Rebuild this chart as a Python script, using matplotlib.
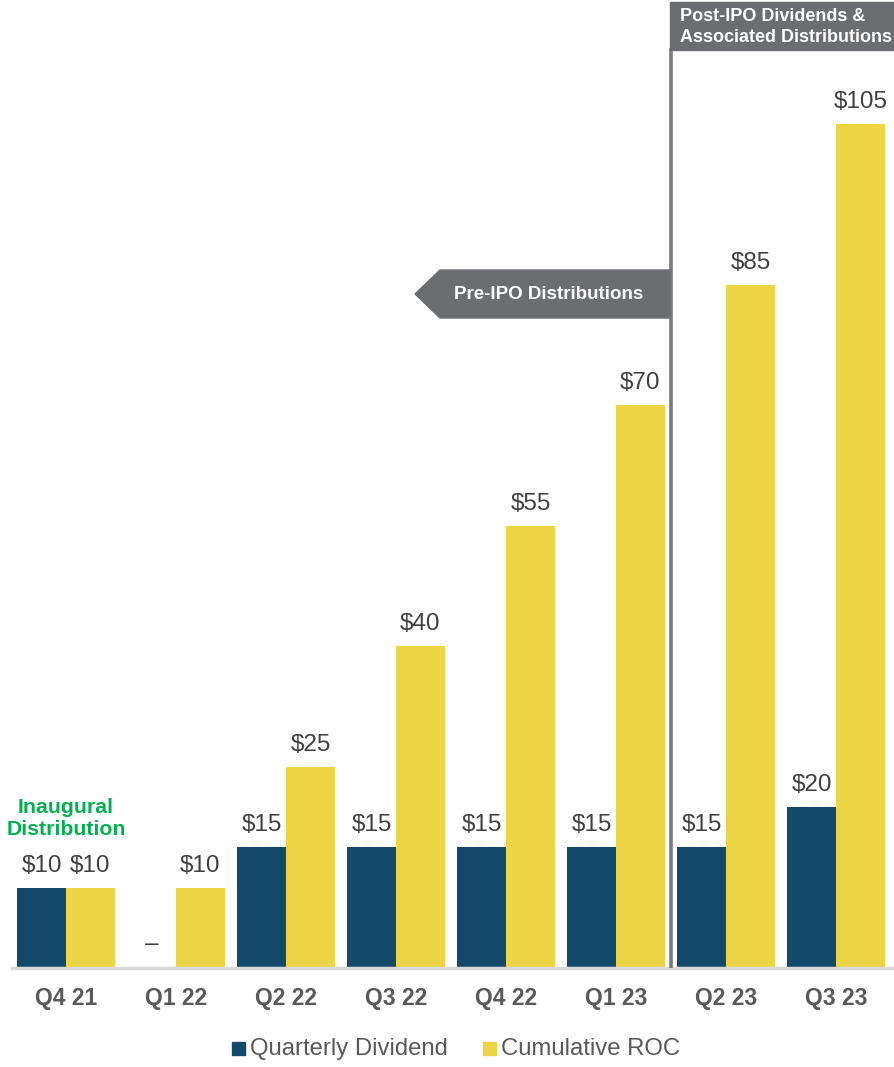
import matplotlib
matplotlib.use("Agg")
import matplotlib.pyplot as plt
from matplotlib.patches import Polygon, Rectangle

categories = ["Q4 21", "Q1 22", "Q2 22", "Q3 22", "Q4 22", "Q1 23", "Q2 23", "Q3 23"]
quarterly_dividend = [10, 0, 15, 15, 15, 15, 15, 20]
cumulative_roc = [10, 10, 25, 40, 55, 70, 85, 105]
div_labels = ["$10", "–", "$15", "$15", "$15", "$15", "$15", "$20"]
roc_labels = ["$10", "$10", "$25", "$40", "$55", "$70", "$85", "$105"]

NAVY = "#134A6C"
YELLOW = "#ECD444"
GRAY = "#6B6D70"
TXT = "#404040"

plt.rcParams['font.family'] = ['Liberation Sans', 'DejaVu Sans']

W, H = 895, 1067
fig = plt.figure(figsize=(W / 100, H / 100), dpi=100)

def fx(x):
    return x / W

def fy(y):
    return 1 - y / H

ax = fig.add_axes([fx(12), fy(968), (893 - 12) / W, 968 / H])
x = list(range(len(categories)))
bw = 0.445
ax.bar([i - bw / 2 for i in x], quarterly_dividend, width=bw, color=NAVY, zorder=2)
ax.bar([i + bw / 2 for i in x], cumulative_roc, width=bw, color=YELLOW, zorder=2)
ax.set_xlim((12 - 66) / 110, (893 - 66) / 110)
ax.set_ylim(0, 120.4)

for i in x:
    if quarterly_dividend[i] > 0:
        ax.text(i - bw / 2, quarterly_dividend[i] + 2.0, div_labels[i], ha='center', va='baseline',
                fontsize=17.5, color=TXT)
    else:
        ax.text(i - bw / 2, 3.0, div_labels[i], ha='center', va='center', fontsize=17.5, color=TXT)
    ax.text(i + bw / 2, cumulative_roc[i] + 2.0, roc_labels[i], ha='center', va='baseline',
            fontsize=17.5, color=TXT)

for s in ['top', 'right', 'left']:
    ax.spines[s].set_visible(False)
ax.spines['bottom'].set_color('#D9D9D9')
ax.spines['bottom'].set_linewidth(2.5)
ax.set_yticks([])
ax.set_xticks(x)
ax.set_xticklabels(categories, fontsize=16.5, fontweight='bold', color='#595959')
ax.tick_params(axis='x', length=0, pad=14)

# vertical separator
ax.axvline(5.5, ymin=0, ymax=(968 - 50) / 968, color='#7A7B7E', lw=2.6, zorder=3)

# Inaugural distribution note
ax.text(0, (968 - 818.5) / 8.04, "Inaugural\nDistribution", ha='center', va='center', fontsize=15.3,
        fontweight='bold', color='#00B050', linespacing=1.2)

# Post-IPO box
fig.patches.append(Rectangle((fx(670), fy(50)), (W - 670) / W, 48 / H,
                             transform=fig.transFigure, color=GRAY, zorder=5))
fig.text(fx(680), fy(27), "Post-IPO Dividends &\nAssociated Distributions", ha='left', va='center',
         fontsize=13, fontweight='bold', color='white', linespacing=1.3, zorder=6)

# Pre-IPO arrow
pts = [(415, 294), (440, 270), (670, 270), (670, 318), (440, 318)]
fig.patches.append(Polygon([(fx(a), fy(b)) for a, b in pts], closed=True,
                           transform=fig.transFigure, color=GRAY, zorder=5))
fig.text(fx(549), fy(295), "Pre-IPO Distributions", ha='center', va='center',
         fontsize=13.5, fontweight='bold', color='white', zorder=6)

# Legend
fig.patches.append(Rectangle((fx(232), fy(1055)), 13 / W, 13 / H, transform=fig.transFigure,
                             color=NAVY))
fig.text(fx(250), fy(1049), "Quarterly Dividend", ha='left', va='center', fontsize=17.2, color='#595959')
fig.patches.append(Rectangle((fx(483), fy(1055)), 13 / W, 13 / H, transform=fig.transFigure,
                             color=YELLOW))
fig.text(fx(501), fy(1049), "Cumulative ROC", ha='left', va='center', fontsize=17.2, color='#595959')

fig.savefig("out.png", dpi=100)
